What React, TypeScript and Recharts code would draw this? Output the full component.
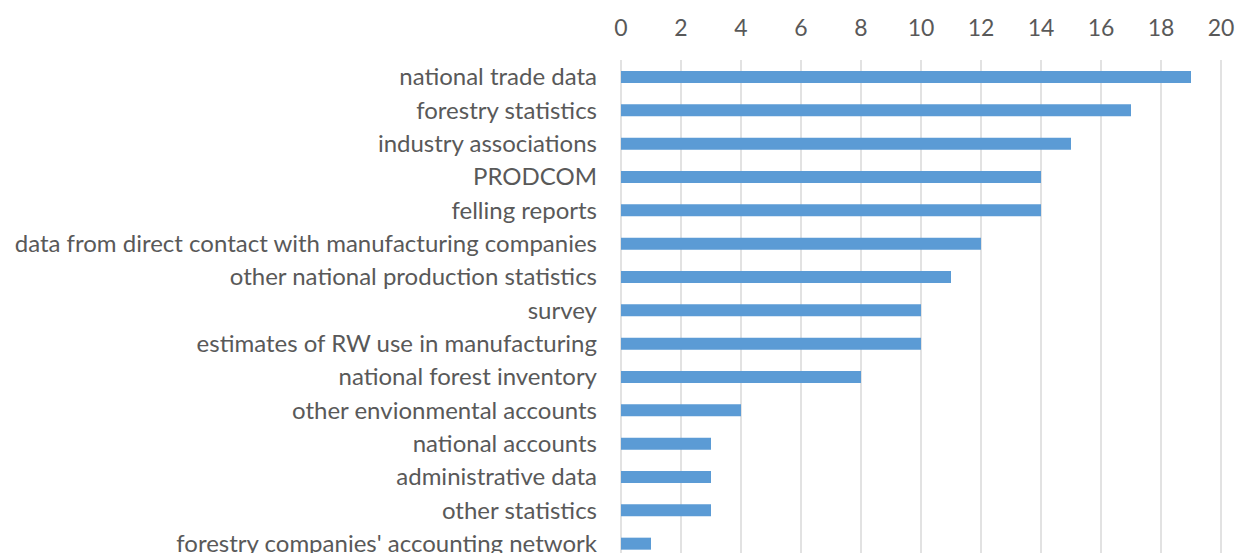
import { BarChart, Bar, XAxis, YAxis, CartesianGrid } from 'recharts';

const categories = [
  'national trade data',
  'forestry statistics',
  'industry associations',
  'PRODCOM',
  'felling reports',
  'data from direct contact with manufacturing companies',
  'other national production statistics',
  'survey',
  'estimates of RW use in manufacturing',
  'national forest inventory',
  'other envionmental accounts',
  'national accounts',
  'administrative data',
  'other statistics',
  "forestry companies' accounting network",
];

const counts = [19, 17, 15, 14, 14, 12, 11, 10, 10, 8, 4, 3, 3, 3, 1];

const xTicks = [0, 2, 4, 6, 8, 10, 12, 14, 16, 18, 20];

const data = categories.map((name, i) => ({ name, value: counts[i] }));

const font = 'Lato, "Open Sans", sans-serif';

export default function App() {
  return (
    <div style={{ position: 'absolute', left: 0, top: 0, width: 1237, height: 553, overflow: 'hidden', background: '#fff' }}>
      <BarChart
        width={1237}
        height={570}
        data={data}
        layout="vertical"
        margin={{ top: 0, right: 16, bottom: 10, left: 0 }}
        barCategoryGap={0}
      >
        <CartesianGrid horizontal={false} stroke="#d9d9d9" strokeWidth={1.5} />
        <XAxis
          type="number"
          orientation="top"
          domain={[0, 20]}
          ticks={xTicks}
          height={60}
          axisLine={false}
          tickLine={false}
          tickSize={0}
          tickMargin={24}
          interval={0}
          tick={{ fill: '#595959', fontSize: 23, fontFamily: font }}
        />
        <YAxis
          type="category"
          dataKey="name"
          width={621}
          axisLine={false}
          tickLine={false}
          tickSize={0}
          tickMargin={24}
          interval={0}
          tick={{ fill: '#595959', fontSize: 24, fontFamily: font }}
        />
        <Bar dataKey="value" fill="#5b9bd5" barSize={12} isAnimationActive={false} />
      </BarChart>
    </div>
  );
}
